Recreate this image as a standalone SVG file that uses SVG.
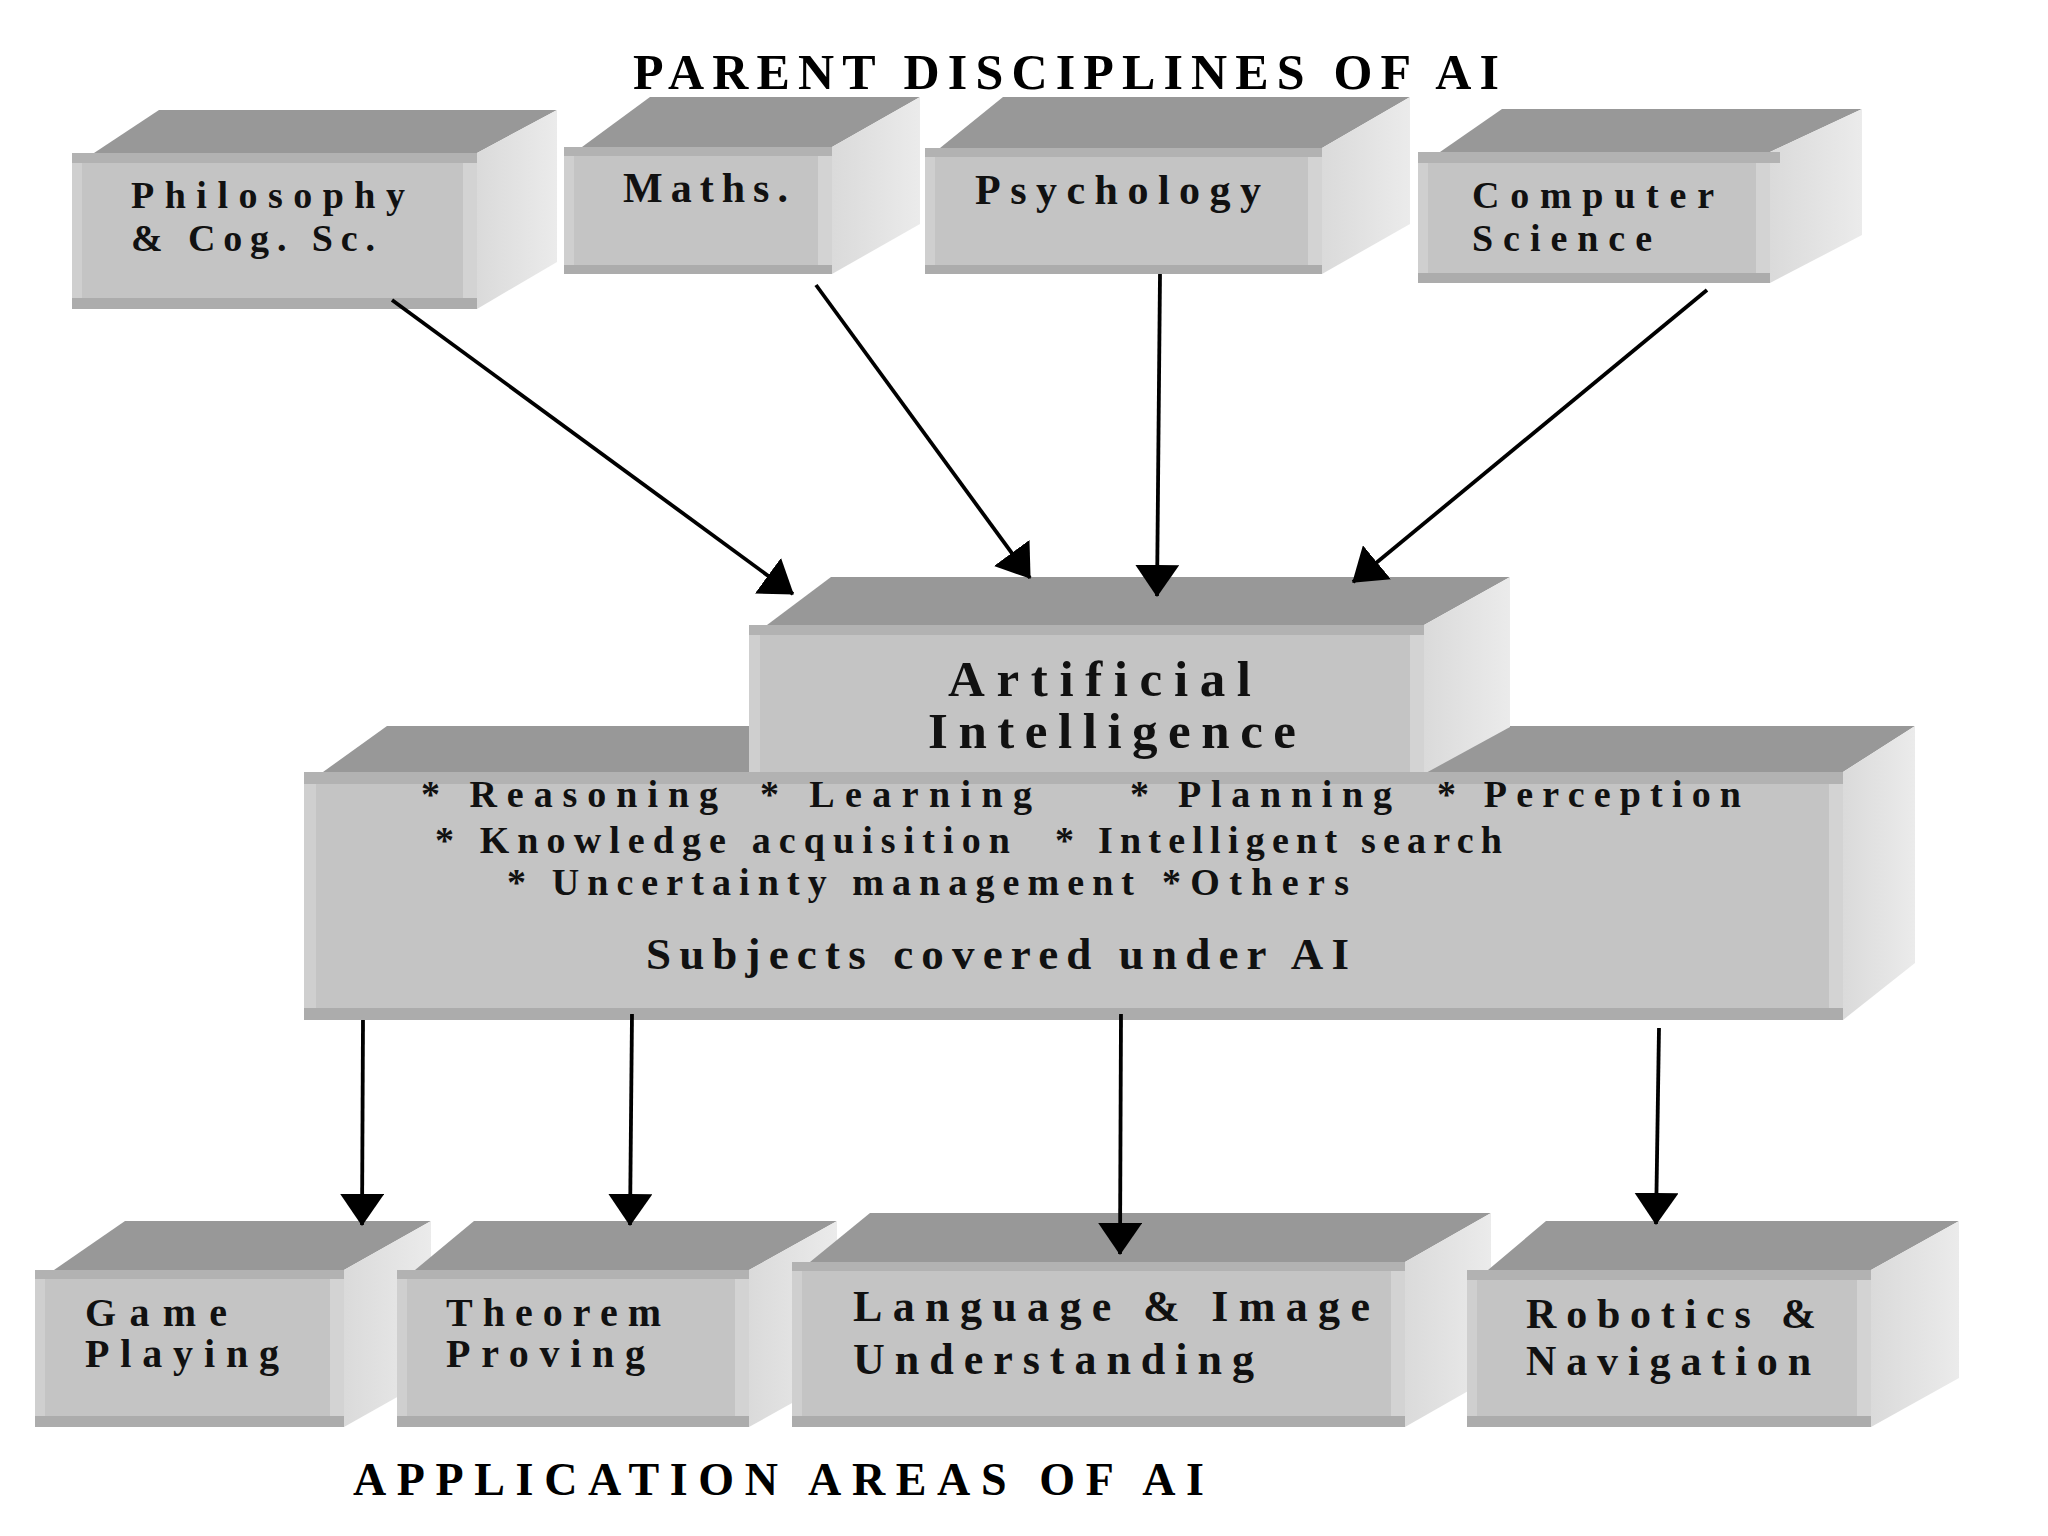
<svg xmlns="http://www.w3.org/2000/svg" width="2048" height="1536" viewBox="0 0 2048 1536">
<defs>
<linearGradient id="sideGrad" x1="0" y1="0" x2="1" y2="0">
<stop offset="0" stop-color="#dadada"/>
<stop offset="1" stop-color="#ebebeb"/>
</linearGradient>
<marker id="ah" markerUnits="userSpaceOnUse" viewBox="0 0 32 44" markerWidth="32" markerHeight="44" refX="31" refY="22" orient="auto">
<path d="M0,0 L32,22 L0,44 z" fill="#000"/>
</marker>
</defs>
<style>
.top{fill:#989898}
.side{fill:url(#sideGrad)}
.front{fill:#c4c4c4}
.bt{fill:#b2b2b2}
.bb{fill:#acacac}
.bl{fill:#cfcfcf}
.br{fill:#d3d3d3}
.lbl{font-family:"Liberation Serif","Times New Roman",serif;font-weight:bold;fill:#111}
.title{font-family:"Liberation Serif","Times New Roman",serif;font-weight:bold;fill:#000}
.conn{stroke:#000;stroke-width:3.8;fill:none;marker-end:url(#ah)}
</style>
<rect x="0" y="0" width="2048" height="1536" fill="#fff"/>

<text class="title" x="633" y="89" font-size="50" textLength="866" lengthAdjust="spacing">PARENT DISCIPLINES OF AI</text>

<g id="n-philosophy">
<polygon class="top" points="94,153 159,110 557,110 477,153"/>
<polygon class="side" points="477,153 557,110 557,262 477,309"/>
<rect class="front" x="72" y="153" width="405" height="156"/>
<rect class="bt" x="72" y="153" width="405" height="10"/>
<rect class="bb" x="72" y="298" width="405" height="11"/>
<rect class="bl" x="72" y="163" width="10" height="135"/>
<rect class="br" x="463" y="163" width="14" height="135"/>
<text class="lbl" x="131" y="208" font-size="38" textLength="274" lengthAdjust="spacing">Philosophy</text>
<text class="lbl" x="131" y="251" font-size="38" textLength="244" lengthAdjust="spacing">&amp; Cog. Sc.</text>
</g>

<g id="n-maths">
<polygon class="top" points="582,147 650,97 920,97 832,147"/>
<polygon class="side" points="832,147 920,97 920,224 832,274"/>
<rect class="front" x="564" y="147" width="268" height="127"/>
<rect class="bt" x="564" y="147" width="268" height="9"/>
<rect class="bb" x="564" y="265" width="268" height="9"/>
<rect class="bl" x="564" y="156" width="10" height="109"/>
<rect class="br" x="818" y="156" width="14" height="109"/>
<text class="lbl" x="623" y="202" font-size="42" textLength="165" lengthAdjust="spacing">Maths.</text>
</g>

<g id="n-psychology">
<polygon class="top" points="940,148 1003,97 1410,97 1322,148"/>
<polygon class="side" points="1322,148 1410,97 1410,224 1322,274"/>
<rect class="front" x="925" y="148" width="397" height="126"/>
<rect class="bt" x="925" y="148" width="397" height="9"/>
<rect class="bb" x="925" y="265" width="397" height="9"/>
<rect class="bl" x="925" y="157" width="10" height="108"/>
<rect class="br" x="1308" y="157" width="14" height="108"/>
<text class="lbl" x="975" y="204" font-size="42" textLength="286" lengthAdjust="spacing">Psychology</text>
</g>

<g id="n-computer">
<polygon class="top" points="1440,152 1502,109 1862,109 1770,152"/>
<polygon class="side" points="1770,152 1862,109 1862,235 1770,283"/>
<rect class="front" x="1418" y="152" width="352" height="131"/>
<rect class="bt" x="1418" y="152" width="362" height="11"/>
<rect class="bb" x="1418" y="273" width="352" height="10"/>
<rect class="bl" x="1418" y="163" width="10" height="110"/>
<rect class="br" x="1756" y="163" width="14" height="110"/>
<text class="lbl" x="1472" y="208" font-size="38" textLength="242" lengthAdjust="spacing">Computer</text>
<text class="lbl" x="1472" y="251" font-size="38" textLength="180" lengthAdjust="spacing">Science</text>
</g>

<g id="n-subjects-top">
<polygon class="top" points="323,772 387,726 1915,726 1843,772"/>
</g>

<g id="n-ai">
<polygon class="top" points="767,625 831,577 1510,577 1424,625"/>
<polygon class="side" points="1424,625 1510,577 1510,727 1424,774"/>
<rect class="front" x="749" y="625" width="675" height="149"/>
<rect class="bt" x="749" y="625" width="675" height="10"/>
<rect class="bl" x="749" y="635" width="11" height="139"/>
<rect class="br" x="1410" y="635" width="14" height="139"/>
<text class="lbl" x="948" y="696" font-size="51" textLength="303" lengthAdjust="spacing">Artificial</text>
<text class="lbl" x="928" y="748" font-size="51" textLength="368" lengthAdjust="spacing">Intelligence</text>
</g>

<g id="n-subjects">
<polygon class="side" points="1843,772 1915,726 1915,963 1843,1020"/>
<rect class="front" x="304" y="772" width="1539" height="248"/>
<rect class="bt" x="304" y="772" width="1539" height="12"/>
<rect class="bb" x="304" y="1008" width="1539" height="12"/>
<rect class="bl" x="304" y="784" width="12" height="224"/>
<rect class="br" x="1829" y="784" width="14" height="224"/>
<text class="lbl" x="421" y="807" font-size="38" textLength="297" lengthAdjust="spacing">* Reasoning</text>
<text class="lbl" x="760" y="807" font-size="38" textLength="272" lengthAdjust="spacing">* Learning</text>
<text class="lbl" x="1130" y="807" font-size="38" textLength="262" lengthAdjust="spacing">* Planning</text>
<text class="lbl" x="1437" y="807" font-size="38" textLength="304" lengthAdjust="spacing">* Perception</text>
<text class="lbl" x="435" y="853" font-size="38" textLength="575" lengthAdjust="spacing">* Knowledge acquisition</text>
<text class="lbl" x="1055" y="853" font-size="38" textLength="447" lengthAdjust="spacing">* Intelligent search</text>
<text class="lbl" x="507" y="895" font-size="38" textLength="627" lengthAdjust="spacing">* Uncertainty management</text>
<text class="lbl" x="1162" y="895" font-size="38" textLength="187" lengthAdjust="spacing">*Others</text>
<text class="lbl" x="646" y="969" font-size="45" textLength="703" lengthAdjust="spacing">Subjects covered under AI</text>
</g>

<g id="n-game">
<polygon class="top" points="54,1270 125,1221 431,1221 344,1270"/>
<polygon class="side" points="344,1270 431,1221 431,1378 344,1427"/>
<rect class="front" x="35" y="1270" width="309" height="157"/>
<rect class="bt" x="35" y="1270" width="309" height="9"/>
<rect class="bb" x="35" y="1416" width="309" height="11"/>
<rect class="bl" x="35" y="1279" width="10" height="137"/>
<rect class="br" x="330" y="1279" width="14" height="137"/>
<text class="lbl" x="85" y="1326" font-size="40" textLength="142" lengthAdjust="spacing">Game</text>
<text class="lbl" x="85" y="1367" font-size="40" textLength="194" lengthAdjust="spacing">Playing</text>
</g>

<g id="n-theorem">
<polygon class="top" points="415,1270 474,1221 837,1221 749,1270"/>
<polygon class="side" points="749,1270 837,1221 837,1378 749,1427"/>
<rect class="front" x="397" y="1270" width="352" height="157"/>
<rect class="bt" x="397" y="1270" width="352" height="9"/>
<rect class="bb" x="397" y="1416" width="352" height="11"/>
<rect class="bl" x="397" y="1279" width="10" height="137"/>
<rect class="br" x="735" y="1279" width="14" height="137"/>
<text class="lbl" x="446" y="1326" font-size="40" textLength="215" lengthAdjust="spacing">Theorem</text>
<text class="lbl" x="446" y="1367" font-size="40" textLength="199" lengthAdjust="spacing">Proving</text>
</g>

<g id="n-language">
<polygon class="top" points="810,1262 870,1213 1491,1213 1405,1262"/>
<polygon class="side" points="1405,1262 1491,1213 1491,1378 1405,1427"/>
<rect class="front" x="792" y="1262" width="613" height="165"/>
<rect class="bt" x="792" y="1262" width="613" height="9"/>
<rect class="bb" x="792" y="1416" width="613" height="11"/>
<rect class="bl" x="792" y="1271" width="10" height="145"/>
<rect class="br" x="1391" y="1271" width="14" height="145"/>
<text class="lbl" x="853" y="1321" font-size="44" textLength="517" lengthAdjust="spacing">Language &amp; Image</text>
<text class="lbl" x="853" y="1374" font-size="44" textLength="401" lengthAdjust="spacing">Understanding</text>
</g>

<g id="n-robotics">
<polygon class="top" points="1488,1270 1546,1221 1959,1221 1871,1270"/>
<polygon class="side" points="1871,1270 1959,1221 1959,1378 1871,1427"/>
<rect class="front" x="1467" y="1270" width="404" height="157"/>
<rect class="bt" x="1467" y="1270" width="404" height="10"/>
<rect class="bb" x="1467" y="1416" width="404" height="11"/>
<rect class="bl" x="1467" y="1280" width="10" height="136"/>
<rect class="br" x="1857" y="1280" width="14" height="136"/>
<text class="lbl" x="1526" y="1328" font-size="42" textLength="290" lengthAdjust="spacing">Robotics &amp;</text>
<text class="lbl" x="1526" y="1375" font-size="42" textLength="285" lengthAdjust="spacing">Navigation</text>
</g>

<text class="title" x="353" y="1495" font-size="46" textLength="851" lengthAdjust="spacing">APPLICATION AREAS OF AI</text>

<g id="connectors">
<line class="conn" x1="392" y1="300" x2="793" y2="594"/>
<line class="conn" x1="816" y1="285" x2="1030" y2="578"/>
<line class="conn" x1="1160" y1="274" x2="1157" y2="596"/>
<line class="conn" x1="1707" y1="290" x2="1353" y2="582"/>
<line class="conn" x1="363" y1="1020" x2="362" y2="1225"/>
<line class="conn" x1="632" y1="1014" x2="630" y2="1225"/>
<line class="conn" x1="1121" y1="1014" x2="1120" y2="1254"/>
<line class="conn" x1="1659" y1="1028" x2="1656" y2="1224"/>
</g>
</svg>
